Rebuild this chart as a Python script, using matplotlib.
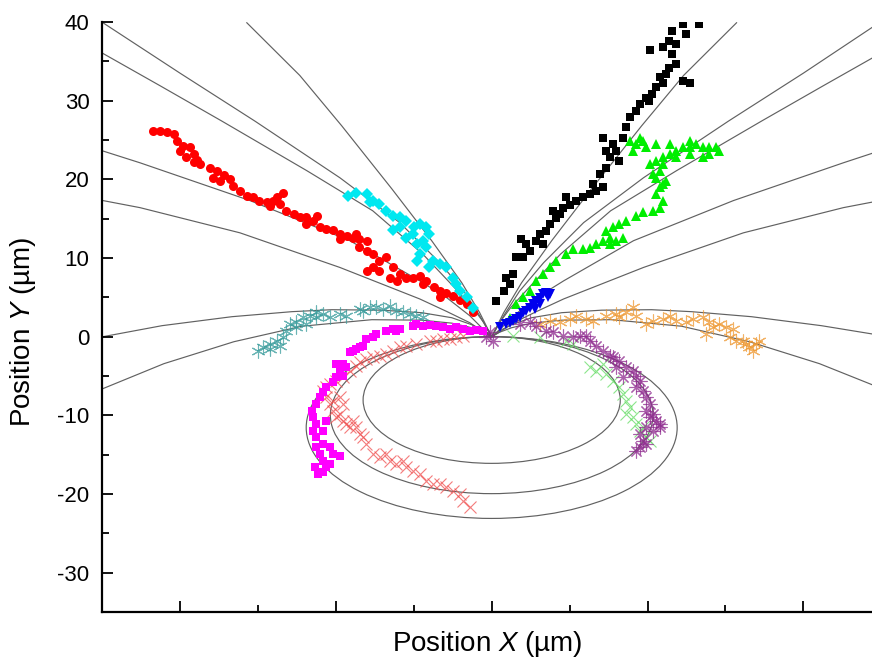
import matplotlib
matplotlib.use("Agg")
import matplotlib.pyplot as plt
from matplotlib.patches import Ellipse
from matplotlib.ticker import MultipleLocator, NullFormatter

plt.rcParams['font.family'] = ['Liberation Sans', 'DejaVu Sans']
plt.rcParams['mathtext.fontset'] = 'custom'
plt.rcParams['mathtext.rm'] = 'Liberation Sans'
plt.rcParams['mathtext.it'] = 'Liberation Sans:italic'
plt.rcParams['axes.unicode_minus'] = False

line_A = [(-24.94, 39.9), (-20.0, 33.5), (-15.19, 27.4), (-9.74, 20.2), (-5.9, 14.5), (-3.33, 9.4), (-1.79, 5.8), (-0.77, 2.67), (0, 0)]
line_B = [(-24.94, 36.0), (-21.28, 31.9), (-17.31, 27.4), (-11.86, 21.1), (-7.63, 16.0), (-4.42, 10.5), (-2.56, 6.6), (-1.22, 3.7), (-0.51, 1.8), (0, 0)]
line_C = [(-24.94, 23.6), (-22.56, 22.1), (-15.51, 17.3), (-9.1, 12.2), (-4.62, 7.1), (-2.88, 4.95), (-1.41, 2.67), (-0.64, 1.14), (0, 0)]
line_D = [(-24.94, 17.3), (-22.56, 16.4), (-16.15, 13.2), (-9.74, 8.8), (-4.62, 4.8), (-2.88, 3.2), (-1.41, 1.78), (-0.64, 0.76), (0, 0)]
line_E = [(-15.71, 39.9), (-12.31, 33.2), (-9.62, 26.8), (-6.41, 18.8), (-3.85, 12.2), (-1.92, 6.86), (-0.77, 3.05), (0, 0)]
line_F = [(-24.94, 0.0), (-21.15, 1.4), (-16.67, 2.54), (-12.82, 3.18), (-10.26, 3.43), (-7.05, 3.37), (-4.49, 3.05), (-2.56, 2.41), (-1.28, 1.52), (-0.51, 0.76), (0, 0)]
line_G = [(-24.94, -6.6), (-21.03, -3.43), (-16.54, -0.64), (-12.18, 1.33), (-7.69, 2.16), (-4.49, 2.1), (-2.56, 1.72), (-1.28, 1.14), (-0.51, 0.57), (0, 0)]
line_H = [(0, 0), (0.51, 0.76), (1.28, 1.52), (2.56, 2.41), (4.49, 3.05), (7.05, 3.37), (10.26, 3.43), (12.82, 3.18), (16.67, 2.54), (21.15, 1.4), (24.4, 0.35)]
line_I = [(0, 0), (0.51, 0.57), (1.28, 1.14), (2.56, 1.72), (4.49, 2.1), (7.69, 2.16), (12.18, 1.33), (16.54, -0.64), (21.03, -3.43), (24.4, -6.1)]
line_J = [(0, 0), (0.77, 3.05), (1.92, 6.86), (3.85, 12.2), (6.41, 18.8), (9.62, 26.8), (12.31, 33.2), (15.71, 39.9)]
line_K = [(0, 0), (0.77, 2.67), (1.79, 5.8), (3.33, 9.4), (5.9, 14.5), (9.74, 20.2), (15.19, 27.4), (20.0, 33.5), (24.4, 39.3)]
line_L = [(0, 0), (0.51, 1.8), (1.22, 3.7), (2.56, 6.6), (4.42, 10.5), (7.63, 16.0), (11.86, 21.1), (17.31, 27.4), (21.28, 31.9), (24.4, 35.4)]
line_M = [(0, 0), (0.64, 1.14), (1.41, 2.67), (2.88, 4.95), (4.62, 7.1), (9.1, 12.2), (15.51, 17.3), (22.56, 22.1), (24.4, 23.3)]
line_N = [(0, 0), (0.64, 0.76), (1.41, 1.78), (2.88, 3.2), (4.62, 4.8), (9.74, 8.8), (16.15, 13.2), (22.56, 16.4), (24.4, 17.1)]
field_lines = [line_A, line_B, line_C, line_D, line_E, line_F, line_G,
               line_H, line_I, line_J, line_K, line_L, line_M, line_N]

# closed loops below the tip: half width and depth (um)
loop_half_width = [8.25, 10.35, 11.9]
loop_depth = [16.1, 19.95, 23.1]

# ---- trajectories ----
red_x = [-21.7, -21.3, -20.85, -20.4, -20.2, -19.8, -19.35, -20.0, -19.1, -19.6, -18.9, -18.7, -19.1, -18.1, -17.65,
         -17.2, -17.4, -16.8, -16.6, -17.9, -16.15, -15.7, -15.3, -14.9, -14.4, -14.0, -13.8, -13.4, -13.6, -14.2,
         -13.2, -12.7, -12.3, -11.9, -11.45, -11.9, -11.2, -11.0, -10.6, -10.2, -9.7, -9.3, -8.9, -8.5, -8.0, -9.7,
         -8.7, -8.5, -8.0, -7.6, -7.2, -6.75, -7.6, -8.0, -7.2, -6.3, -5.9, -5.5, -6.5, -6.1, -5.05, -4.6, -4.2,
         -3.7, -3.3, -2.9, -2.5, -2.05, -1.6, -1.2, -4.4, -3.3]
red_y = [26.2, 26.1, 26.0, 25.8, 24.9, 24.3, 24.1, 23.6, 23.2, 22.8, 22.4, 21.9, 22.2, 21.5, 21.1,
         20.5, 19.8, 20.0, 19.2, 20.2, 18.55, 17.9, 17.7, 17.3, 17.1, 17.3, 17.7, 18.3, 16.9, 16.6,
         16.0, 15.6, 15.2, 15.2, 14.7, 14.3, 15.4, 13.9, 13.7, 13.5, 13.0, 12.8, 12.6, 12.4, 12.2, 12.4,
         13.0, 11.35, 10.9, 10.5, 9.65, 10.1, 8.8, 8.4, 8.4, 8.8, 7.95, 7.5, 7.5, 7.1, 7.5, 7.75, 7.1,
         6.3, 5.8, 5.6, 5.2, 4.6, 4.15, 3.1, 6.7, 5.0]

cyan_x = [-9.2, -8.7, -8.0, -7.6, -7.2, -7.8, -6.75, -6.3, -5.9, -5.5, -5.0, -4.6, -4.2, -4.0, -4.4, -4.8,
          -4.2, -4.6, -3.75, -3.3, -2.9, -2.5, -2.3, -2.05, -1.6, -1.2, -5.9, -6.3, -5.5, -5.05, -4.8, -4.0]
cyan_y = [17.9, 18.3, 18.1, 17.3, 16.9, 17.1, 16.0, 15.4, 15.2, 14.7, 13.9, 14.3, 13.9, 13.0, 12.2, 11.8,
          11.35, 10.5, 9.65, 9.2, 8.8, 7.5, 6.7, 5.8, 5.0, 3.7, 13.9, 13.5, 12.6, 13.0, 9.65, 8.8]

black_x = [0.3, 0.8, 1.15, 0.94, 1.37, 1.9, 1.58, 2.0, 2.44, 2.22, 2.86, 3.08, 3.29, 3.5, 3.72, 4.15, 3.93,
           4.36, 4.57, 5.0, 4.79, 5.43, 5.86, 6.28, 6.71, 6.5, 7.14, 6.92, 7.35, 7.56, 7.35, 7.78, 8.0, 8.2,
           7.14, 8.42, 8.63, 8.85, 9.27, 9.49, 9.9, 10.3, 10.1, 10.56, 11.0, 10.77, 11.2, 11.4, 11.84, 11.6,
           11.84, 11.4, 11.0, 12.27, 12.7, 11.6, 12.27, 12.48, 10.13, 13.3]
black_y = [4.55, 5.8, 6.7, 7.5, 7.95, 12.4, 10.1, 10.1, 10.9, 11.75, 12.2, 13.0, 11.75, 13.45, 14.3, 15.1, 16.0,
           15.6, 16.4, 16.8, 17.7, 17.3, 17.7, 18.1, 18.5, 19.4, 19.0, 20.7, 21.5, 22.8, 23.6, 24.5, 23.6, 22.35,
           25.3, 25.3, 26.6, 27.9, 28.7, 29.6, 30.4, 30.8, 30.0, 31.7, 32.3, 32.95, 33.4, 34.2, 34.6, 35.9,
           37.2, 37.6, 36.8, 32.5, 32.3, 38.9, 39.7, 38.5, 36.5, 39.7]

green_x = [1.15, 1.58, 2.0, 2.44, 2.86, 3.29, 3.72, 4.15, 4.79, 5.21, 5.86, 6.28, 6.71, 7.14, 7.56, 7.35, 7.78,
           8.2, 8.63, 9.27, 9.7, 8.0, 7.56, 8.42, 10.34, 10.77, 11.0, 10.56, 10.77, 10.98, 11.2, 10.56, 10.34,
           10.77, 10.13, 10.56, 10.98, 11.41, 11.84, 12.27, 12.7, 13.12, 13.55, 13.97, 14.4, 14.6, 12.7, 11.84,
           10.98, 11.41, 10.56, 9.7, 9.27, 9.06, 9.92, 8.85, 9.49, 12.7, 13.55, 13.97]
green_y = [2.4, 4.1, 5.0, 5.8, 7.1, 7.95, 8.8, 9.65, 10.5, 11.1, 11.1, 11.3, 11.75, 12.2, 12.6, 13.45, 13.9,
           14.3, 14.7, 15.4, 15.8, 12.2, 11.75, 12.6, 16.0, 16.4, 17.3, 18.1, 19.0, 19.4, 19.8, 20.2, 20.7,
           21.1, 21.9, 22.35, 22.8, 23.2, 23.6, 24.05, 24.05, 24.5, 24.05, 24.05, 24.05, 23.6, 23.2, 22.8,
           21.9, 24.5, 24.5, 24.9, 24.5, 23.6, 24.05, 24.9, 25.3, 24.9, 22.8, 23.2]

blue_x = [0.51, 0.94, 1.37, 1.8, 2.0, 2.22, 2.44, 2.65, 2.86, 3.08, 3.29, 3.5, 3.72, 3.08, 2.76, 1.15, 1.58, 3.6]
blue_y = [1.17, 1.6, 2.0, 2.45, 3.07, 3.28, 3.7, 4.1, 4.55, 4.98, 5.4, 5.6, 5.4, 4.1, 3.5, 1.8, 2.2, 5.0]

teal_x = [-15.0, -14.66, -14.24, -13.8, -13.38, -13.6, -13.17, -12.95, -12.53, -12.1, -11.67, -11.24, -11.89,
          -10.82, -10.4, -9.75, -9.32, -8.47, -8.25, -7.83, -7.4, -6.97, -6.54, -6.12, -5.69, -5.26, -4.83,
          -4.41, -12.53, -14.24, -11.24]
teal_y = [-1.78, -1.36, -0.93, -0.51, -0.09, -1.15, 0.76, 1.61, 1.82, 2.46, 2.67, 2.46, 1.61, 2.88, 2.46, 2.88,
          2.67, 3.52, 3.3, 3.73, 3.73, 3.52, 3.94, 3.3, 3.09, 2.88, 2.67, 2.46, 1.19, -1.57, 3.09]

magenta_x = [-11.13, -10.81, -10.6, -10.39, -10.81, -11.03, -11.24, -10.81, -10.39, -10.17, -9.75, -11.24, -11.45,
             -11.24, -11.45, -11.56, -11.24, -11.03, -10.81, -10.6, -10.17, -9.96, -9.75, -9.96, -9.53, -9.32,
             -9.53, -9.1, -8.89, -8.68, -8.46, -8.25, -8.04, -7.61, -7.4, -6.75, -6.33, -6.12, -5.9, -5.04,
             -4.83, -4.4, -3.98, -3.55, -3.12, -2.69, -2.27, -1.84, -1.41, -0.98, -0.56, -10.81, -10.6, -11.35]
magenta_y = [-17.46, -17.25, -16.6, -16.2, -15.8, -14.9, -14.07, -13.65, -14.07, -14.9, -15.13, -12.8, -11.95,
             -11.1, -10.26, -9.41, -8.56, -7.72, -7.08, -6.44, -5.81, -5.17, -4.33, -3.48, -3.48, -3.9,
             -4.96, -2.0, -1.78, -1.57, -1.36, -1.15, -0.3, -0.09, 0.33, 0.76, 0.97, 0.76, 0.97, 1.39,
             1.61, 1.39, 1.52, 1.39, 1.18, 0.97, 1.18, 0.97, 0.76, 0.85, 0.76, -11.95, -10.68, -16.6]

salmon_x = [-1.84, -2.27, -2.69, -3.12, -3.55, -3.98, -4.83, -5.47, -5.9, -6.33, -6.75, -7.18, -7.61, -8.04,
            -8.46, -8.68, -9.1, -9.53, -9.96, -10.39, -10.6, -10.81, -10.6, -10.39, -10.17, -9.96, -9.75, -9.53,
            -9.32, -9.1, -8.89, -8.68, -8.46, -8.25, -8.04, -7.61, -7.18, -6.75, -6.54, -6.11, -5.69, -5.47,
            -5.04, -4.62, -4.19, -3.76, -3.33, -2.91, -2.48, -2.05, -1.84, -1.41, -10.17, -9.75, -9.53]
salmon_y = [0.12, -0.09, -0.3, -0.3, -0.51, -0.51, -0.94, -1.15, -1.36, -1.78, -2.21, -2.42, -2.63, -2.84,
            -3.27, -3.69, -4.33, -5.17, -5.6, -6.02, -6.44, -6.87, -7.72, -8.56, -9.41, -10.26, -9.83, -10.68,
            -11.1, -11.53, -10.68, -11.53, -12.38, -12.8, -13.65, -14.92, -15.34, -14.92, -15.77, -16.19,
            -15.77, -16.61, -17.04, -17.46, -18.31, -18.73, -18.73, -19.16, -19.58, -20.0, -20.85, -21.7,
            -8.14, -7.72, -8.56]

purple_x = [-0.34, 0.08, -0.13, 1.79, 2.43, 2.86, 3.5, 3.93, 4.57, 5.21, 5.64, 6.07, 6.28, 6.71, 7.14, 7.56,
            7.78, 8.2, 8.63, 9.06, 9.27, 9.49, 9.27, 9.7, 9.91, 10.13, 9.91, 10.34, 10.55, 10.77, 10.34, 9.91,
            9.49, 9.7, 9.49, 9.27, 9.91, 7.99, 8.42, 10.13, 10.77]
purple_y = [-0.09, -0.51, 0.55, 1.61, 1.82, 1.4, 0.76, 0.55, 0.13, -0.09, 0.13, 0.13, -0.51, -1.15, -1.78,
            -2.42, -2.63, -3.05, -3.9, -4.32, -4.96, -5.6, -6.44, -6.87, -7.71, -8.56, -9.41, -9.83, -10.68,
            -11.53, -11.95, -11.53, -12.38, -13.22, -14.07, -14.49, -13.65, -3.9, -5.17, -10.26, -11.1]

lgreen_x = [1.37, 3.08, 4.79, 5.21, 6.28, 6.71, 7.14, 7.35, 7.78, 8.2, 8.42, 8.63, 8.85, 8.63, 9.06, 9.27,
            9.49, 9.91, 10.13, 9.7]
lgreen_y = [0.13, -0.09, -0.51, -0.93, -3.9, -4.32, -3.48, -4.75, -5.6, -6.44, -7.29, -8.14, -8.99, -9.83,
            -10.26, -11.1, -11.95, -12.8, -13.22, -11.53]

orange_x = [3.08, 3.72, 4.36, 5.0, 5.43, 6.07, 6.5, 7.35, 7.99, 8.2, 8.63, 9.06, 9.27, 9.91, 10.34, 10.98,
            11.41, 11.84, 12.48, 12.9, 13.55, 13.97, 14.19, 14.61, 15.04, 15.47, 15.26, 15.68, 16.11, 16.32,
            16.54, 16.96, 17.18, 16.75, 13.76]
orange_y = [1.61, 2.03, 1.82, 2.24, 2.67, 2.24, 2.03, 2.67, 2.88, 2.46, 3.09, 3.73, 2.67, 1.61, 2.03, 2.24,
            2.67, 2.03, 1.82, 2.24, 2.46, 1.82, 1.19, 1.61, 1.19, 0.97, -0.09, -0.51, -0.51, -0.93, -1.36,
            -0.93, -0.51, -1.78, 0.34]

fig = plt.figure(figsize=(8.72, 6.66), dpi=100)
ax = fig.add_axes([0.117, 0.081, 0.883, 0.886])

for line in field_lines:
    xs = [p[0] for p in line]
    ys = [p[1] for p in line]
    ax.plot(xs, ys, color='0.38', lw=0.85, zorder=1, solid_joinstyle='round')
for w, d in zip(loop_half_width, loop_depth):
    ax.add_patch(Ellipse((0, -d / 2), 2 * w, d, fill=False, ec='0.38', lw=0.85, zorder=1))

ax.plot(teal_x, teal_y, ls='none', marker=(6, 2, 0), ms=10, mew=0.8, color='#3a9c9c', alpha=0.75)
ax.plot(salmon_x, salmon_y, ls='none', marker='x', ms=8, mew=0.8, color='#f05050', alpha=0.75)
ax.plot(lgreen_x, lgreen_y, ls='none', marker='x', ms=8, mew=0.8, color='#66dd66', alpha=0.75)
ax.plot(orange_x, orange_y, ls='none', marker=(6, 2, 0), ms=10, mew=0.8, color='#ee9933', alpha=0.75)
ax.plot(purple_x, purple_y, ls='none', marker=(8, 2, 0), ms=10, mew=0.8, color='#8e2a8e', alpha=0.75)
ax.plot(magenta_x, magenta_y, ls='none', marker='s', ms=5.5, mew=0, color='#ff00ff')
ax.plot(red_x, red_y, ls='none', marker='o', ms=6.5, mew=0, color='#ff0000')
ax.plot(cyan_x, cyan_y, ls='none', marker='D', ms=6, mew=0, color='#00e8f0')
ax.plot(black_x, black_y, ls='none', marker='s', ms=6, mew=0, color='black')
ax.plot(green_x, green_y, ls='none', marker='^', ms=7, mew=0, color='#00ee00')
ax.plot(blue_x, blue_y, ls='none', marker='v', ms=7, mew=0, color='#0000ee')

ax.set_xlim(-25, 24.4)
ax.set_ylim(-35, 40)
ax.xaxis.set_major_locator(MultipleLocator(10))
ax.xaxis.set_minor_locator(MultipleLocator(5))
ax.xaxis.set_major_formatter(NullFormatter())
ax.yaxis.set_major_locator(MultipleLocator(10))
ax.yaxis.set_minor_locator(MultipleLocator(5))
ax.tick_params(which='major', direction='in', length=8, width=1.3, labelsize=16)
ax.tick_params(which='minor', direction='in', length=5, width=1.3)
ax.tick_params(axis='y', pad=9)
for s in ['top', 'right']:
    ax.spines[s].set_visible(False)
for s in ['left', 'bottom']:
    ax.spines[s].set_linewidth(1.6)

ax.set_xlabel('Position $\\mathit{X}$ (µm)', fontsize=20)
ax.set_ylabel('Position $\\mathit{Y}$ (µm)', fontsize=20)
ax.xaxis.set_label_coords(0.5, -0.028)
ax.yaxis.set_label_coords(-0.083, 0.475)

fig.savefig('out.png', dpi=100)
